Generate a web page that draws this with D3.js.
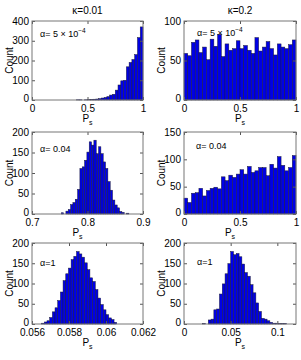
<!DOCTYPE html>
<html>
<head>
<meta charset="utf-8">
<script src="https://cdn.jsdelivr.net/npm/d3@7"></script>
<style>
  body { margin: 0; background: #fff; }
  svg text { font-family: "Liberation Sans", Arial, sans-serif; fill: #000; }
</style>
</head>
<body>
<div id="chart"></div>
<script>
// column titles and per-row alpha labels
const kappaTitles = ["κ=0.01", "κ=0.2"];
const alphaText = [["α= 5 × 10", "−4"], ["α= 0.04", ""], ["α=1", ""]];

// histogram counts, one array per panel (row, column)
const countsK001A5e4 = [0, 0, 0, 0, 0, 0, 0, 0, 0, 0, 0, 0, 0, 0, 0, 0, 1, 1, 0, 1,
  2, 3, 4, 5, 7, 10, 13, 17, 25, 29, 50, 76, 97, 100, 168, 190, 205, 230, 316, 370];
const countsK02A5e4 = [59, 56, 73, 76, 60, 67, 51, 77, 68, 83, 55, 71, 63, 65, 75,
  65, 69, 63, 59, 79, 62, 67, 74, 65, 57, 71, 67, 65, 70, 76];
const countsK001A004 = [3, 0, 7, 11, 23, 28, 36, 60, 111, 115, 131, 151, 176, 168, 180,
  147, 164, 147, 127, 111, 79, 58, 34, 22, 15, 6, 4, 0, 2, 0];
const countsK02A004 = [29, 21, 38, 39, 47, 33, 43, 47, 49, 46, 68, 61, 71, 67, 73,
  81, 73, 87, 76, 79, 85, 85, 70, 91, 84, 105, 89, 79, 85, 107];
const countsK001A1 = [2, 5, 8, 16, 30, 40, 58, 79, 107, 124, 138, 159, 167, 179, 173,
  165, 151, 134, 114, 105, 85, 64, 48, 35, 23, 15, 11, 4, 0, 0];
const countsK02A1 = [1, 0, 10, 12, 35, 37, 74, 99, 124, 149, 179, 171, 174, 166, 148,
  127, 118, 97, 77, 52, 31, 14, 12, 8, 4, 2, 2, 1, 1, 1];

// bin start and bin width per panel
const binStarts = [[0, 0], [0.7527, 0], [0.05652, 0.02]];
const binWidths = [[0.025, 1 / 30], [0.0042, 1 / 30], [0.000145, 0.003]];

// axis limits and ticks
const xDomains = [[[0, 1], [0, 1]], [[0.7, 0.9], [0, 1]], [[0.056, 0.062], [0, 0.12]]];
const yDomains = [[[0, 400], [0, 100]], [[0, 200], [0, 150]], [[0, 200], [0, 200]]];
const xTicks = [[[0, 0.5, 1], [0, 0.5, 1]], [[0.7, 0.8, 0.9], [0, 0.5, 1]],
  [[0.056, 0.058, 0.06, 0.062], [0, 0.05, 0.1]]];
const yTicks = [[[0, 100, 200, 300, 400], [0, 50, 100]], [[0, 50, 100, 150, 200], [0, 50, 100, 150]],
  [[0, 50, 100, 150, 200], [0, 50, 100, 150, 200]]];

const counts = [[countsK001A5e4, countsK02A5e4], [countsK001A004, countsK02A004], [countsK001A1, countsK02A1]];

const W = 301, H = 360;
const colX = [[32, 143], [184, 296]];
const rowY = [[21, 100], [132, 214], [243, 324]];
const alphaPos = [[[40, 37], [197, 36]], [[40, 152], [196, 149]], [[40, 266], [197, 265]]];
const xlabelShift = [0, -10, 0]; // middle row labels sit left of centre in the original

const svg = d3.select("#chart").append("svg")
  .attr("width", W).attr("height", H);

const fmt = v => String(+v.toFixed(4));

kappaTitles.forEach((t, c) => {
  svg.append("text")
    .attr("x", (colX[c][0] + colX[c][1]) / 2).attr("y", 14)
    .attr("text-anchor", "middle").attr("font-size", 10)
    .text(t);
});

for (let r = 0; r < 3; r++) {
  for (let c = 0; c < 2; c++) {
    const x = d3.scaleLinear().domain(xDomains[r][c]).range(colX[c]);
    const y = d3.scaleLinear().domain(yDomains[r][c]).range([rowY[r][1], rowY[r][0]]);
    const g = svg.append("g");
    const data = counts[r][c].map((n, i) => ({
      x0: binStarts[r][c] + i * binWidths[r][c],
      x1: binStarts[r][c] + (i + 1) * binWidths[r][c],
      n
    }));

    g.selectAll("rect.bar")
      .data(data.filter(d => d.n > 0))
      .enter().append("rect")
        .attr("class", "bar")
        .attr("x", d => x(d.x0))
        .attr("y", d => y(d.n))
        .attr("width", d => x(d.x1) - x(d.x0))
        .attr("height", d => y(0) - y(d.n))
        .attr("fill", "#0000e6")
        .attr("stroke", "#1a1a3a")
        .attr("stroke-width", 0.5);

    // bottom / left axes with inward ticks, mirrored on top / right
    g.append("g").attr("transform", `translate(0,${rowY[r][1]})`)
      .call(d3.axisBottom(x).tickValues(xTicks[r][c]).tickSizeInner(-3).tickSizeOuter(0).tickPadding(5).tickFormat(fmt));
    const ya = g.append("g").attr("transform", `translate(${colX[c][0]},0)`)
      .call(d3.axisLeft(y).tickValues(yTicks[r][c]).tickSizeInner(-3).tickSizeOuter(0).tickPadding(3));
    ya.selectAll(".tick text").filter(d => d === 0).attr("dy", "0.1em");
    g.append("g").attr("transform", `translate(0,${rowY[r][0]})`)
      .call(d3.axisTop(x).tickValues(xTicks[r][c]).tickSizeInner(-3).tickSizeOuter(0).tickFormat(""));
    g.append("g").attr("transform", `translate(${colX[c][1]},0)`)
      .call(d3.axisRight(y).tickValues(yTicks[r][c]).tickSizeInner(-3).tickSizeOuter(0).tickFormat(""));
    g.selectAll(".domain").remove();
    g.selectAll(".tick line").attr("stroke", "#555");
    g.selectAll(".tick text").attr("font-size", 10).attr("font-family", "Liberation Sans, Arial, sans-serif").attr("fill", "#000");

    g.append("rect")
      .attr("x", colX[c][0]).attr("y", rowY[r][0])
      .attr("width", colX[c][1] - colX[c][0]).attr("height", rowY[r][1] - rowY[r][0])
      .attr("fill", "none").attr("stroke", "#777").attr("stroke-width", 1);

    // axis labels
    g.append("text")
      .attr("transform", `translate(${colX[c][0] - 19},${(rowY[r][0] + rowY[r][1]) / 2}) rotate(-90)`)
      .attr("text-anchor", "middle").attr("font-size", 10)
      .text("Count");
    const xl = g.append("text")
      .attr("x", (colX[c][0] + colX[c][1]) / 2 + xlabelShift[r]).attr("y", rowY[r][1] + 22)
      .attr("text-anchor", "middle").attr("font-size", 10);
    xl.append("tspan").text("P");
    xl.append("tspan").attr("font-size", 7).attr("dy", 3).text("s");

    const at = g.append("text")
      .attr("x", alphaPos[r][c][0]).attr("y", alphaPos[r][c][1])
      .attr("font-size", 9);
    at.append("tspan").text(alphaText[r][0]);
    if (alphaText[r][1]) at.append("tspan").attr("font-size", 6.5).attr("dy", -4).text(alphaText[r][1]);
  }
}
</script>
</body>
</html>
